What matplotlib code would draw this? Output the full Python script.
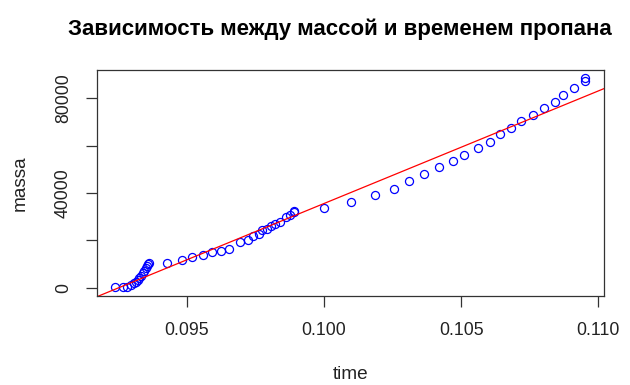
import numpy as np
import matplotlib
matplotlib.use("Agg")
import matplotlib.pyplot as plt

plt.rcParams['font.family'] = ['Liberation Sans', 'DejaVu Sans']

time = [0.092414, 0.092680, 0.092840, 0.092961, 0.093081, 0.093168, 0.093227,
        0.093288, 0.093350, 0.093409, 0.093470, 0.093532, 0.093569, 0.093605,
        0.093627,
        0.094283, 0.094818, 0.095208, 0.095594, 0.095921, 0.096238, 0.096530,
        0.096930, 0.097232, 0.097414, 0.097633, 0.097757, 0.097924, 0.098084,
        0.098205, 0.098412, 0.098631, 0.098751, 0.098908, 0.098920,
        0.099989, 0.100998, 0.101846, 0.102538, 0.103095, 0.103631, 0.104177,
        0.104698, 0.105098, 0.105608, 0.106034, 0.106424, 0.106799, 0.107189,
        0.107611, 0.108001, 0.108401, 0.108704, 0.109093, 0.109500, 0.109519]
massa = [400, 170, 425, 1150, 1870, 2550, 3270,
         4250, 4970, 6090, 7200, 8200, 9210, 10060,
         10360,
         10615, 11630, 12900, 13760, 15030, 15710, 16560,
         19110, 20250, 21650, 22670, 24200, 24920, 25900,
         27050, 27900, 29890, 30870, 31850, 32600,
         33710, 36260, 39360, 41780, 44880, 48150, 50900,
         53650, 56050, 59190, 61740, 64840, 67260, 70230,
         72900, 75880, 78550, 81400, 84240, 87260, 88400]

x_ticks = [0.095, 0.100, 0.105, 0.110]
x_ticklabels = ["0.095", "0.100", "0.105", "0.110"]
y_ticks = [0, 20000, 40000, 60000, 80000]
y_ticklabels = ["0", "", "40000", "", "80000"]

t = np.array(time)
m = np.array(massa)

fig = plt.figure(figsize=(6.3, 3.85), dpi=100)
ax = fig.add_axes([96.7/630, 1-295.7/385, (604-96.7)/630, (295.7-70)/385])

ax.plot(t, m, linestyle='none', marker='o', markerfacecolor='none',
        markeredgecolor='blue', markersize=5.8, markeredgewidth=0.9)

xr = t.max() - t.min()
yr = m.max() - m.min()
xlim = (t.min() - 0.04*xr, t.max() + 0.04*xr)
ylim = (m.min() - 0.04*yr, m.max() + 0.04*yr)

k, b = np.polyfit(t, m, 1)
xx = np.array(xlim)
ax.plot(xx, k*xx + b, color='red', linewidth=0.9, clip_on=True)

ax.set_xlim(*xlim)
ax.set_ylim(*ylim)
ax.set_xticks(x_ticks)
ax.set_xticklabels(x_ticklabels)
ax.set_yticks(y_ticks)
ax.set_yticklabels(y_ticklabels, rotation=90, va='center')

for s in ax.spines.values():
    s.set_linewidth(0.9)
    s.set_color('#333333')
ax.tick_params(direction='out', length=7.7, width=0.9, color='#333333',
               labelsize=12.7, labelcolor='#222222')
ax.tick_params(axis='x', pad=11)
ax.tick_params(axis='y', pad=10)

ax.set_xlabel("time", fontsize=13.7, color='#222222', labelpad=20)
ax.set_ylabel("massa", fontsize=13.7, color='#222222', labelpad=19)
fig.text(340/630, 1-29/385, "Зависимость между массой и временем пропана",
         ha='center', va='center', fontsize=16, fontweight='bold')

fig.savefig("out.png", dpi=100)
